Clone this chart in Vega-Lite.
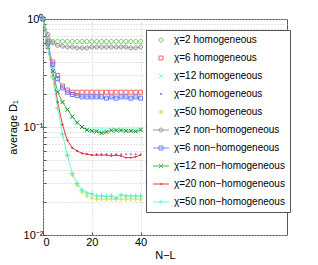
{
  "$schema": "https://vega.github.io/schema/vega-lite/v6.json",
  "width": 244,
  "height": 216,
  "autosize": {"type": "none"},
  "padding": {"left": 43, "top": 19, "right": 31, "bottom": 30},
  "background": "white",
  "config": {
    "font": "Liberation Sans",
    "view": {"stroke": "#555", "strokeWidth": 1},
    "axis": {"domain": false, "grid": true, "gridColor": "#c8c8c8", "gridDash": [1, 2], "gridWidth": 1, "labelFont": "Liberation Sans", "labelFontSize": 11, "labelColor": "#000", "titleFont": "Liberation Sans", "titleFontSize": 11, "titleFontWeight": "normal", "titleColor": "#000", "tickColor": "#555", "tickSize": -3}
  },
  "data": {"values": [
    {"x": 0, "χ=2 homogeneous": 1, "χ=6 homogeneous": 1, "χ=12 homogeneous": 1, "χ=20 homogeneous": 1, "χ=50 homogeneous": 1, "χ=2 non−homogeneous": 1, "χ=6 non−homogeneous": 1, "χ=12 non−homogeneous": 1, "χ=20 non−homogeneous": 1, "χ=50 non−homogeneous": 1},
    {"x": 2, "χ=2 homogeneous": 0.64, "χ=6 homogeneous": 0.62, "χ=12 homogeneous": 0.56, "χ=20 homogeneous": 0.55, "χ=50 homogeneous": 0.55, "χ=2 non−homogeneous": 0.72, "χ=6 non−homogeneous": 0.6, "χ=12 non−homogeneous": 0.55, "χ=20 non−homogeneous": 0.55, "χ=50 non−homogeneous": 0.55},
    {"x": 4, "χ=2 homogeneous": 0.62, "χ=6 homogeneous": 0.4, "χ=12 homogeneous": 0.34, "χ=20 homogeneous": 0.3, "χ=50 homogeneous": 0.29, "χ=2 non−homogeneous": 0.6, "χ=6 non−homogeneous": 0.38, "χ=12 non−homogeneous": 0.33, "χ=20 non−homogeneous": 0.3, "χ=50 non−homogeneous": 0.29},
    {"x": 6, "χ=2 homogeneous": 0.62, "χ=6 homogeneous": 0.3, "χ=12 homogeneous": 0.22, "χ=20 homogeneous": 0.17, "χ=50 homogeneous": 0.15, "χ=2 non−homogeneous": 0.57, "χ=6 non−homogeneous": 0.28, "χ=12 non−homogeneous": 0.21, "χ=20 non−homogeneous": 0.17, "χ=50 non−homogeneous": 0.15},
    {"x": 8, "χ=2 homogeneous": 0.62, "χ=6 homogeneous": 0.24, "χ=12 homogeneous": 0.17, "χ=20 homogeneous": 0.105, "χ=50 homogeneous": 0.085, "χ=2 non−homogeneous": 0.56, "χ=6 non−homogeneous": 0.23, "χ=12 non−homogeneous": 0.17, "χ=20 non−homogeneous": 0.105, "χ=50 non−homogeneous": 0.086},
    {"x": 10, "χ=2 homogeneous": 0.62, "χ=6 homogeneous": 0.22, "χ=12 homogeneous": 0.145, "χ=20 homogeneous": 0.076, "χ=50 homogeneous": 0.054, "χ=2 non−homogeneous": 0.55, "χ=6 non−homogeneous": 0.21, "χ=12 non−homogeneous": 0.145, "χ=20 non−homogeneous": 0.075, "χ=50 non−homogeneous": 0.055},
    {"x": 12, "χ=2 homogeneous": 0.62, "χ=6 homogeneous": 0.21, "χ=12 homogeneous": 0.125, "χ=20 homogeneous": 0.064, "χ=50 homogeneous": 0.036, "χ=2 non−homogeneous": 0.55, "χ=6 non−homogeneous": 0.2, "χ=12 non−homogeneous": 0.125, "χ=20 non−homogeneous": 0.064, "χ=50 non−homogeneous": 0.037},
    {"x": 14, "χ=2 homogeneous": 0.62, "χ=6 homogeneous": 0.21, "χ=12 homogeneous": 0.11, "χ=20 homogeneous": 0.06, "χ=50 homogeneous": 0.029, "χ=2 non−homogeneous": 0.54, "χ=6 non−homogeneous": 0.195, "χ=12 non−homogeneous": 0.11, "χ=20 non−homogeneous": 0.06, "χ=50 non−homogeneous": 0.03},
    {"x": 16, "χ=2 homogeneous": 0.62, "χ=6 homogeneous": 0.21, "χ=12 homogeneous": 0.1, "χ=20 homogeneous": 0.057, "χ=50 homogeneous": 0.025, "χ=2 non−homogeneous": 0.54, "χ=6 non−homogeneous": 0.19, "χ=12 non−homogeneous": 0.1, "χ=20 non−homogeneous": 0.057, "χ=50 non−homogeneous": 0.026},
    {"x": 18, "χ=2 homogeneous": 0.62, "χ=6 homogeneous": 0.21, "χ=12 homogeneous": 0.096, "χ=20 homogeneous": 0.056, "χ=50 homogeneous": 0.023, "χ=2 non−homogeneous": 0.54, "χ=6 non−homogeneous": 0.19, "χ=12 non−homogeneous": 0.094, "χ=20 non−homogeneous": 0.056, "χ=50 non−homogeneous": 0.0245},
    {"x": 20, "χ=2 homogeneous": 0.62, "χ=6 homogeneous": 0.21, "χ=12 homogeneous": 0.095, "χ=20 homogeneous": 0.055, "χ=50 homogeneous": 0.022, "χ=2 non−homogeneous": 0.55, "χ=6 non−homogeneous": 0.19, "χ=12 non−homogeneous": 0.092, "χ=20 non−homogeneous": 0.055, "χ=50 non−homogeneous": 0.024},
    {"x": 22, "χ=2 homogeneous": 0.62, "χ=6 homogeneous": 0.21, "χ=12 homogeneous": 0.095, "χ=20 homogeneous": 0.056, "χ=50 homogeneous": 0.0215, "χ=2 non−homogeneous": 0.55, "χ=6 non−homogeneous": 0.19, "χ=12 non−homogeneous": 0.091, "χ=20 non−homogeneous": 0.055, "χ=50 non−homogeneous": 0.023},
    {"x": 24, "χ=2 homogeneous": 0.62, "χ=6 homogeneous": 0.21, "χ=12 homogeneous": 0.095, "χ=20 homogeneous": 0.056, "χ=50 homogeneous": 0.0215, "χ=2 non−homogeneous": 0.55, "χ=6 non−homogeneous": 0.19, "χ=12 non−homogeneous": 0.088, "χ=20 non−homogeneous": 0.055, "χ=50 non−homogeneous": 0.023},
    {"x": 26, "χ=2 homogeneous": 0.62, "χ=6 homogeneous": 0.21, "χ=12 homogeneous": 0.094, "χ=20 homogeneous": 0.056, "χ=50 homogeneous": 0.0215, "χ=2 non−homogeneous": 0.55, "χ=6 non−homogeneous": 0.185, "χ=12 non−homogeneous": 0.09, "χ=20 non−homogeneous": 0.055, "χ=50 non−homogeneous": 0.0228},
    {"x": 28, "χ=2 homogeneous": 0.62, "χ=6 homogeneous": 0.21, "χ=12 homogeneous": 0.096, "χ=20 homogeneous": 0.056, "χ=50 homogeneous": 0.0215, "χ=2 non−homogeneous": 0.55, "χ=6 non−homogeneous": 0.19, "χ=12 non−homogeneous": 0.093, "χ=20 non−homogeneous": 0.054, "χ=50 non−homogeneous": 0.023},
    {"x": 30, "χ=2 homogeneous": 0.62, "χ=6 homogeneous": 0.21, "χ=12 homogeneous": 0.095, "χ=20 homogeneous": 0.056, "χ=50 homogeneous": 0.0215, "χ=2 non−homogeneous": 0.55, "χ=6 non−homogeneous": 0.185, "χ=12 non−homogeneous": 0.093, "χ=20 non−homogeneous": 0.055, "χ=50 non−homogeneous": 0.022},
    {"x": 32, "χ=2 homogeneous": 0.62, "χ=6 homogeneous": 0.21, "χ=12 homogeneous": 0.095, "χ=20 homogeneous": 0.056, "χ=50 homogeneous": 0.0215, "χ=2 non−homogeneous": 0.55, "χ=6 non−homogeneous": 0.19, "χ=12 non−homogeneous": 0.093, "χ=20 non−homogeneous": 0.054, "χ=50 non−homogeneous": 0.0235},
    {"x": 34, "χ=2 homogeneous": 0.62, "χ=6 homogeneous": 0.21, "χ=12 homogeneous": 0.096, "χ=20 homogeneous": 0.056, "χ=50 homogeneous": 0.0215, "χ=2 non−homogeneous": 0.55, "χ=6 non−homogeneous": 0.19, "χ=12 non−homogeneous": 0.092, "χ=20 non−homogeneous": 0.052, "χ=50 non−homogeneous": 0.023},
    {"x": 36, "χ=2 homogeneous": 0.62, "χ=6 homogeneous": 0.21, "χ=12 homogeneous": 0.095, "χ=20 homogeneous": 0.056, "χ=50 homogeneous": 0.0215, "χ=2 non−homogeneous": 0.54, "χ=6 non−homogeneous": 0.185, "χ=12 non−homogeneous": 0.092, "χ=20 non−homogeneous": 0.052, "χ=50 non−homogeneous": 0.023},
    {"x": 38, "χ=2 homogeneous": 0.62, "χ=6 homogeneous": 0.21, "χ=12 homogeneous": 0.095, "χ=20 homogeneous": 0.056, "χ=50 homogeneous": 0.0215, "χ=2 non−homogeneous": 0.54, "χ=6 non−homogeneous": 0.19, "χ=12 non−homogeneous": 0.091, "χ=20 non−homogeneous": 0.053, "χ=50 non−homogeneous": 0.023},
    {"x": 40, "χ=2 homogeneous": 0.62, "χ=6 homogeneous": 0.21, "χ=12 homogeneous": 0.096, "χ=20 homogeneous": 0.056, "χ=50 homogeneous": 0.0215, "χ=2 non−homogeneous": 0.55, "χ=6 non−homogeneous": 0.185, "χ=12 non−homogeneous": 0.094, "χ=20 non−homogeneous": 0.055, "χ=50 non−homogeneous": 0.023}
  ]},
  "transform": [
    {"fold": ["χ=2 homogeneous", "χ=6 homogeneous", "χ=12 homogeneous", "χ=20 homogeneous", "χ=50 homogeneous", "χ=2 non−homogeneous", "χ=6 non−homogeneous", "χ=12 non−homogeneous", "χ=20 non−homogeneous", "χ=50 non−homogeneous"], "as": ["s", "v"]}
  ],
  "encoding": {
    "x": {"field": "x", "type": "quantitative", "scale": {"domain": [0, 100], "nice": false}, "axis": {"values": [0, 20, 40], "title": "N−L", "labelPadding": 4, "titlePadding": 2}},
    "y": {"field": "v", "type": "quantitative", "scale": {"type": "log", "domain": [0.01, 1], "nice": false}, "axis": {"values": [0.01, 0.02, 0.03, 0.04, 0.05, 0.06, 0.07, 0.08, 0.09, 0.1, 0.2, 0.3, 0.4, 0.5, 0.6, 0.7, 0.8, 0.9, 1], "labelExpr": "datum.value == 1 ? '10⁰' : datum.value == 0.1 ? '10⁻¹' : datum.value == 0.01 ? '10⁻²' : ''", "title": "average D₁", "labelPadding": 3, "titlePadding": 5}}
  },
  "resolve": {"scale": {"color": "independent", "shape": "independent"}},
  "layer": [
    {
      "transform": [{"filter": "test(/non/, datum.s)"}],
      "mark": {"type": "line", "strokeWidth": 1},
      "encoding": {
        "detail": {"field": "s"},
        "color": {"field": "s", "type": "nominal", "legend": null, "scale": {
          "domain": ["χ=2 homogeneous", "χ=6 homogeneous", "χ=12 homogeneous", "χ=20 homogeneous", "χ=50 homogeneous", "χ=2 non−homogeneous", "χ=6 non−homogeneous", "χ=12 non−homogeneous", "χ=20 non−homogeneous", "χ=50 non−homogeneous"],
          "range": ["#66cc55", "#ff6666", "#80ffd8", "#8844ff", "#ccdd33", "#aaaaaa", "#7f95ff", "#44bb44", "#ff3333", "#66ffcc"]}}
      }
    },
    {
      "mark": {"type": "point", "filled": false, "strokeWidth": 1, "size": 16, "opacity": 1},
      "encoding": {
        "color": {"field": "s", "type": "nominal", "legend": null, "scale": {
          "domain": ["χ=2 homogeneous", "χ=6 homogeneous", "χ=12 homogeneous", "χ=20 homogeneous", "χ=50 homogeneous", "χ=2 non−homogeneous", "χ=6 non−homogeneous", "χ=12 non−homogeneous", "χ=20 non−homogeneous", "χ=50 non−homogeneous"],
          "range": ["#66cc55", "#ff6666", "#80ffd8", "#8844ff", "#ccdd33", "#888888", "#6677ff", "#228822", "#ee2222", "#55eebb"]}},
        "shape": {"field": "s", "type": "nominal", "legend": null, "scale": {
          "domain": ["χ=2 homogeneous", "χ=6 homogeneous", "χ=12 homogeneous", "χ=20 homogeneous", "χ=50 homogeneous", "χ=2 non−homogeneous", "χ=6 non−homogeneous", "χ=12 non−homogeneous", "χ=20 non−homogeneous", "χ=50 non−homogeneous"],
          "range": ["M1,0A1,1,0,1,1,-1,0A1,1,0,1,1,1,0Z", "M-1,-1H1V1H-1Z", "M-1,-1L1,1M-1,1L1,-1", "M0.3,0A0.3,0.3,0,1,1,-0.3,0A0.3,0.3,0,1,1,0.3,0Z", "M-1.2,0H1.2M0,-1.2V1.2", "M1,0A1,1,0,1,1,-1,0A1,1,0,1,1,1,0Z", "M-1,-1H1V1H-1Z", "M-1,-1L1,1M-1,1L1,-1", "M0.3,0A0.3,0.3,0,1,1,-0.3,0A0.3,0.3,0,1,1,0.3,0Z", "M-1.2,0H1.2M0,-1.2V1.2"]}}
      }
    },
    {
      "transform": [{"filter": "datum.x < 0"}],
      "mark": {"type": "point", "filled": false, "strokeWidth": 1, "size": 16, "opacity": 1},
      "encoding": {
        "color": {"field": "s", "type": "nominal", "scale": {
          "domain": ["χ=2 homogeneous", "χ=6 homogeneous", "χ=12 homogeneous", "χ=20 homogeneous", "χ=50 homogeneous", "χ=2 non−homogeneous", "χ=6 non−homogeneous", "χ=12 non−homogeneous", "χ=20 non−homogeneous", "χ=50 non−homogeneous"],
          "range": ["#66cc55", "#ff6666", "#80ffd8", "#8844ff", "#ccdd33", "#999999", "#7788ff", "#44bb44", "#ff3333", "#66ffcc"]},
          "legend": {
            "orient": "none", "legendX": 103, "legendY": 11, "title": null,
            "labelFont": "Liberation Sans", "labelFontSize": 10, "labelColor": "#000",
            "strokeColor": "#555", "fillColor": "#ffffff", "padding": 5,
            "symbolOffset": 5, "labelOffset": 8, "rowPadding": 8, "symbolSize": 16, "symbolStrokeWidth": 1
          }
        },
        "shape": {"field": "s", "type": "nominal", "scale": {
          "domain": ["χ=2 homogeneous", "χ=6 homogeneous", "χ=12 homogeneous", "χ=20 homogeneous", "χ=50 homogeneous", "χ=2 non−homogeneous", "χ=6 non−homogeneous", "χ=12 non−homogeneous", "χ=20 non−homogeneous", "χ=50 non−homogeneous"],
          "range": ["M1,0A1,1,0,1,1,-1,0A1,1,0,1,1,1,0Z", "M-1,-1H1V1H-1Z", "M-1,-1L1,1M-1,1L1,-1", "M0.3,0A0.3,0.3,0,1,1,-0.3,0A0.3,0.3,0,1,1,0.3,0Z", "M-1.2,0H1.2M0,-1.2V1.2", "M-4,0H4M1,0A1,1,0,1,1,-1,0A1,1,0,1,1,1,0Z", "M-4,0H4M-1,-1H1V1H-1Z", "M-4,0H4M-1,-1L1,1M-1,1L1,-1", "M-4,0H4M0.3,0A0.3,0.3,0,1,1,-0.3,0A0.3,0.3,0,1,1,0.3,0Z", "M-4,0H4M-1.2,0H1.2M0,-1.2V1.2"]},
          "legend": {
            "orient": "none", "legendX": 103, "legendY": 11, "title": null,
            "labelFont": "Liberation Sans", "labelFontSize": 10, "labelColor": "#000",
            "strokeColor": "#555", "fillColor": "#ffffff", "padding": 5,
            "symbolOffset": 5, "labelOffset": 8, "rowPadding": 8, "symbolSize": 16, "symbolStrokeWidth": 1
          }
        }
      }
    }
  ]
}
